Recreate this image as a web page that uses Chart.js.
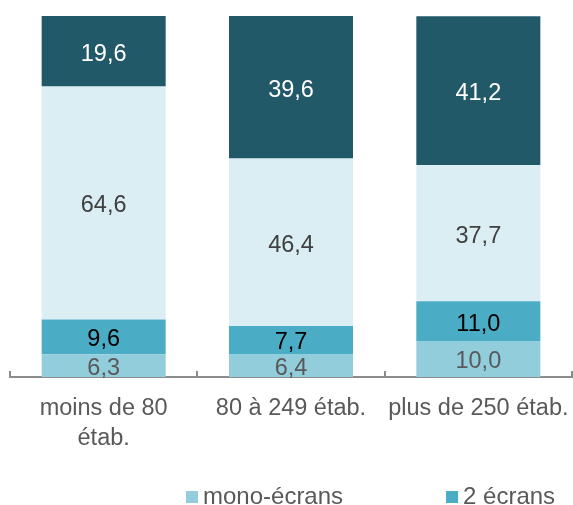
<!DOCTYPE html>
<html>
<head>
<meta charset="utf-8">
<script src="https://cdn.jsdelivr.net/npm/chart.js@4/dist/chart.umd.min.js"></script>
<style>
  body { margin: 0; background: #fff; }
  #wrap { width: 573px; height: 505px; }
</style>
</head>
<body>
<div id="wrap"><canvas id="screens" width="573" height="505"></canvas></div>
<script>
const categories = [['moins de 80', 'étab.'], '80 à 249 étab.', 'plus de 250 étab.'];
const seriesNames = ['mono-écrans', '2 écrans', 'série 3', 'série 4'];
const monoEcrans = [6.3, 6.4, 10.0];
const deuxEcrans = [9.6, 7.7, 11.0];
const serie3 = [64.6, 46.4, 37.7];
const serie4 = [19.6, 39.6, 41.2];

const barColors = ['#92cddc', '#4bacc6', '#daeef3', '#215968'];
const labelColors = ['#595959', '#000000', '#404040', '#ffffff'];
const FONT = "'Liberation Sans', Arial, sans-serif";

// values written in the middle of each segment, french decimal comma
const valueLabels = {
    id: 'valueLabels',
    afterDatasetsDraw(chart) {
        const ctx = chart.ctx;
        ctx.save();
        ctx.font = `23.5px ${FONT}`;
        ctx.textAlign = 'center';
        ctx.textBaseline = 'middle';
        chart.data.datasets.forEach((ds, i) => {
            chart.getDatasetMeta(i).data.forEach((bar, j) => {
                ctx.fillStyle = labelColors[i];
                ctx.fillText(ds.data[j].toFixed(1).replace('.', ','), bar.x, (bar.y + bar.base) / 2 + 3);
            });
        });
        ctx.restore();
    }
};

// legend shows only the first two series, laid out like the original
const bottomLegend = {
    id: 'bottomLegend',
    afterDraw(chart) {
        const ctx = chart.ctx;
        ctx.save();
        ctx.font = `24px ${FONT}`;
        ctx.textBaseline = 'middle';
        let x = 186;
        const y = 497;
        [0, 1].forEach(i => {
            ctx.fillStyle = barColors[i];
            ctx.fillRect(x, y - 6, 12, 12);
            ctx.fillStyle = '#595959';
            ctx.fillText(seriesNames[i], x + 17, y);
            x += 17 + ctx.measureText(seriesNames[i]).width + 103;
        });
        ctx.restore();
    }
};

const seriesData = [monoEcrans, deuxEcrans, serie3, serie4];

new Chart(document.getElementById('screens'), {
    type: 'bar',
    data: {
        labels: categories,
        datasets: seriesData.map((d, i) => ({
            label: seriesNames[i],
            data: d,
            backgroundColor: barColors[i],
            borderWidth: 0,
            barPercentage: 0.662,
            categoryPercentage: 1
        }))
    },
    options: {
        responsive: false,
        animation: false,
        layout: { padding: { left: 10, right: 1, top: 16, bottom: 0 } },
        plugins: {
            legend: { display: false },
            tooltip: { enabled: false }
        },
        scales: {
            x: {
                stacked: true,
                afterFit(scale) {
                    scale.height = 128;
                    scale.paddingLeft = 0;
                    scale.paddingRight = 0;
                },
                border: { display: true, color: '#8c8c8c', width: 2 },
                grid: {
                    offset: true,
                    drawOnChartArea: false,
                    drawTicks: true,
                    tickLength: -6,
                    color: '#8c8c8c',
                    lineWidth: 2
                },
                ticks: {
                    color: '#595959',
                    padding: 23,
                    maxRotation: 0,
                    autoSkip: false,
                    font: { family: FONT, size: 23.5, lineHeight: 1.25 }
                }
            },
            y: {
                stacked: true,
                display: false,
                min: 0,
                max: 100
            }
        }
    },
    plugins: [valueLabels, bottomLegend]
});
</script>
</body>
</html>
